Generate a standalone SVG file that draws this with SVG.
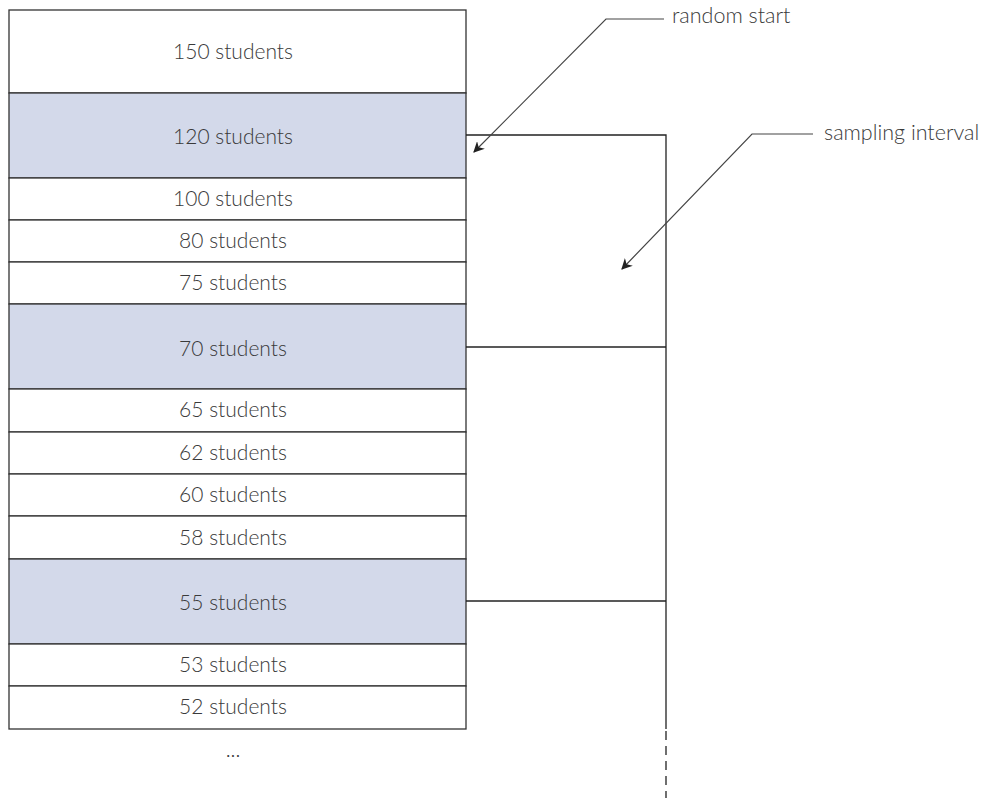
<svg xmlns="http://www.w3.org/2000/svg" width="984" height="798" viewBox="0 0 984 798">
<style>
.row{fill:#fff;stroke:#333;stroke-width:1.3}
.hl{fill:#d3d9ea;stroke:#333;stroke-width:1.3}
.t{font-family:Lato,"Liberation Sans",sans-serif;font-size:21px;font-weight:300;fill:#3a3a3a;text-anchor:middle}
.lbl{font-family:Lato,"Liberation Sans",sans-serif;font-size:21.5px;font-weight:300;fill:#3a3a3a}
.ln{stroke:#222;stroke-width:1.3;fill:none}
.ptr{stroke:#444;stroke-width:1.2;fill:none}
</style>
<defs>
<marker id="ah" viewBox="0 0 10 10" refX="9" refY="5" markerWidth="11" markerHeight="11" markerUnits="userSpaceOnUse" orient="auto">
<path d="M0,0 L10,5 L0,10 L3,5 z" fill="#222"/>
</marker>
</defs>
<rect width="984" height="798" fill="#fff"/>
<g id="r150"><rect class="row" x="9" y="10" width="457" height="83"/><text class="t" x="233" y="59">150 students</text></g>
<g id="r120"><rect class="hl" x="9" y="93" width="457" height="85"/><text class="t" x="233" y="144">120 students</text></g>
<g id="r100"><rect class="row" x="9" y="178" width="457" height="42"/><text class="t" x="233" y="206">100 students</text></g>
<g id="r80"><rect class="row" x="9" y="220" width="457" height="42"/><text class="t" x="233" y="248">80 students</text></g>
<g id="r75"><rect class="row" x="9" y="262" width="457" height="42"/><text class="t" x="233" y="290">75 students</text></g>
<g id="r70"><rect class="hl" x="9" y="304" width="457" height="85"/><text class="t" x="233" y="356">70 students</text></g>
<g id="r65"><rect class="row" x="9" y="389" width="457" height="43"/><text class="t" x="233" y="417">65 students</text></g>
<g id="r62"><rect class="row" x="9" y="432" width="457" height="42"/><text class="t" x="233" y="460">62 students</text></g>
<g id="r60"><rect class="row" x="9" y="474" width="457" height="42"/><text class="t" x="233" y="502">60 students</text></g>
<g id="r58"><rect class="row" x="9" y="516" width="457" height="43"/><text class="t" x="233" y="545">58 students</text></g>
<g id="r55"><rect class="hl" x="9" y="559" width="457" height="85"/><text class="t" x="233" y="610">55 students</text></g>
<g id="r53"><rect class="row" x="9" y="644" width="457" height="42"/><text class="t" x="233" y="672">53 students</text></g>
<g id="r52"><rect class="row" x="9" y="686" width="457" height="43"/><text class="t" x="233" y="714">52 students</text></g>
<g id="more"><text class="t" x="233" y="757">...</text></g>
<g id="connectors">
<path class="ln" d="M466,135 H666 V729"/>
<path class="ln" d="M466,347 H666"/>
<path class="ln" d="M466,601 H666"/>
<path class="ln" d="M666,731 V798" stroke-dasharray="9,6"/>
<path class="ptr" d="M664,19 H606 L474,152" marker-end="url(#ah)"/>
<path class="ptr" d="M813,134 H752 L622,269" marker-end="url(#ah)"/>
</g>
<g id="label-random"><text class="lbl" x="672" y="23">random start</text></g>
<g id="label-interval"><text class="lbl" x="824" y="140">sampling interval</text></g>
</svg>
